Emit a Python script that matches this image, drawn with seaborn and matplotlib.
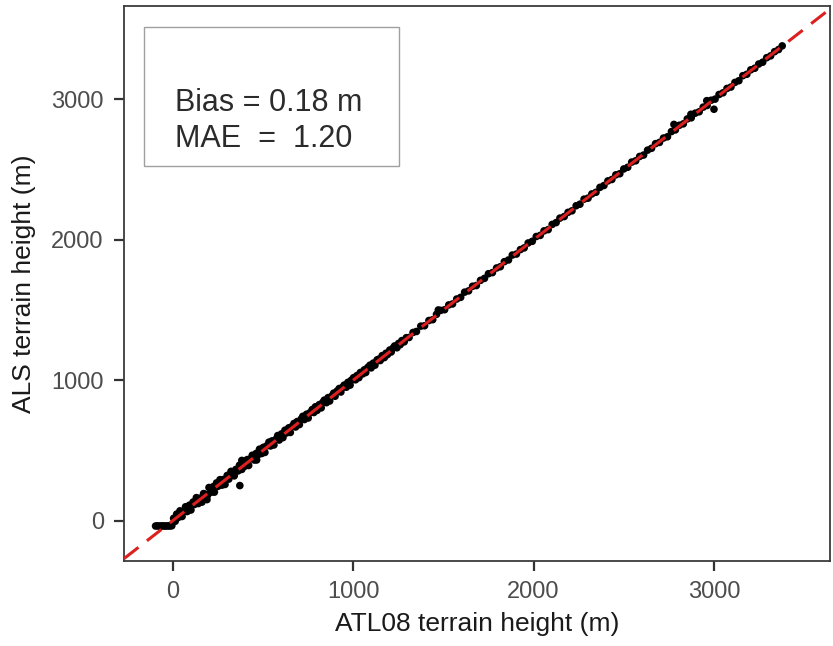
import matplotlib
matplotlib.use("Agg")
import matplotlib.pyplot as plt
from matplotlib.patches import Rectangle
import pandas as pd
import seaborn as sns

# ATL08 vs ALS terrain heights (m)
atl08_flat = [-95, -85, -75, -65, -55, -45, -35, -25, -15, -5]
als_flat = [-38, -37, -38, -38, -37, -38, -38, -37, -38, -36]

atl08_low = [
    5, 14, 22, 31, 40, 52, 60, 71, 80, 92,
    101, 113, 120, 131, 142, 150, 162, 171, 180, 193,
    201, 212, 224, 231, 243, 250, 262, 273, 281, 290,
    302, 311, 323, 334, 341, 350, 362, 370, 383, 392,
    400, 413, 421, 432, 441, 452, 463, 470, 481, 493,
    502, 511, 520, 533, 542, 550, 561, 573, 582, 590,
    603, 611, 622, 630, 643, 652, 661, 672, 681, 690,
    702, 713, 721, 730, 742, 751, 760, 773, 782, 791,
    800, 812, 823, 831, 840, 852, 861, 870, 883, 892,
    900, 911, 923, 932, 941, 950, 962, 971, 983, 990,
    1002, 1013, 1021, 1032, 1040, 1053, 1062, 1070, 1081, 1093,
    1100, 1112, 1121, 1133, 1142, 1150, 1161, 1173, 1182, 1190,
    1203, 1211, 1222, 1230, 1243, 1252, 1261, 1270, 1283, 1295,
]
als_low = [
    17, -4, 47, 23, 70, 30, 65, 99, 65, 110,
    76, 133, 115, 164, 122, 160, 132, 193, 188, 181,
    236, 202, 242, 203, 269, 244, 292, 253, 293, 258,
    322, 296, 351, 339, 319, 365, 354, 395, 365, 422,
    388, 435, 393, 442, 466, 432, 479, 465, 509, 478,
    522, 486, 532, 559, 532, 568, 539, 581, 606, 574,
    618, 591, 644, 624, 661, 628, 671, 692, 667, 706,
    684, 725, 743, 720, 758, 731, 768, 791, 770, 811,
    785, 826, 803, 841, 858, 840, 876, 852, 889, 908,
    886, 923, 941, 916, 949, 965, 950, 985, 965, 1000,
    1018, 1003, 1033, 1018, 1055, 1045, 1074, 1055, 1091, 1107,
    1088, 1122, 1107, 1145, 1150, 1140, 1175, 1161, 1192, 1182,
    1215, 1201, 1230, 1244, 1231, 1262, 1253, 1282, 1273, 1303,
]

atl08_high = [
    1310, 1332, 1351, 1375, 1396, 1420, 1441, 1462, 1485, 1507,
    1530, 1551, 1574, 1596, 1618, 1640, 1662, 1683, 1706, 1728,
    1750, 1772, 1795, 1816, 1838, 1861, 1882, 1905, 1927, 1948,
    1970, 1993, 2015, 2037, 2058, 2081, 2103, 2125, 2146, 2170,
    2191, 2213, 2236, 2257, 2280, 2302, 2323, 2346, 2368, 2390,
    2412, 2434, 2456, 2478, 2500, 2522, 2544, 2566, 2588, 2610,
    2632, 2654, 2676, 2698, 2720, 2742, 2764, 2786, 2808, 2830,
    2852, 2874, 2896, 2918, 2940, 2962, 2984, 3006, 3028, 3050,
    3072, 3094, 3116, 3138, 3160, 3182, 3204, 3226, 3248, 3270,
    3292, 3314, 3336, 3358, 3378,
]
als_high = [
    1304, 1340, 1347, 1385, 1388, 1425, 1431, 1469, 1497, 1502,
    1536, 1543, 1578, 1590, 1627, 1636, 1669, 1674, 1711, 1725,
    1758, 1766, 1799, 1808, 1844, 1856, 1891, 1898, 1930, 1942,
    1977, 1989, 2023, 2031, 2063, 2072, 2109, 2122, 2154, 2165,
    2195, 2206, 2242, 2253, 2289, 2296, 2326, 2338, 2373, 2386,
    2419, 2429, 2462, 2470, 2504, 2516, 2553, 2562, 2593, 2603,
    2638, 2651, 2684, 2693, 2724, 2733, 2770, 2782, 2815, 2825,
    2860, 2868, 2901, 2911, 2944, 2956, 2993, 3001, 3034, 3046,
    3077, 3087, 3120, 3132, 3168, 3178, 3210, 3221, 3251, 3264,
    3296, 3309, 3339, 3354, 3380,
]

atl08_out = [190, 372, 383, 465, 1472, 2778, 2872, 2960, 3000]
als_out = [150, 250, 429, 432, 1500, 2821, 2893, 2990, 2929]

x_ticks = [0, 1000, 2000, 3000]
y_ticks = [0, 1000, 2000, 3000]
stats_lines = ["Bias = 0.18 m", "MAE  =  1.20"]

df = pd.DataFrame({
    "atl08": atl08_flat + atl08_low + atl08_high + atl08_out,
    "als": als_flat + als_low + als_high + als_out,
})

sns.set_theme(style="ticks")
plt.rcParams["font.family"] = ["Liberation Sans", "DejaVu Sans"]

fig = plt.figure(figsize=(8.33, 6.46), dpi=100)
ax = fig.add_axes([124 / 833, 1 - 561 / 646, 706 / 833, 555 / 646])

sns.scatterplot(data=df, x="atl08", y="als", ax=ax, color="black",
                s=30, linewidth=0, edgecolor="none", zorder=2)
ax.axline((0, 0), slope=1, color="#dc2020", lw=2.2, ls=(0, (6, 3.5)), zorder=3)

ax.set_xlim(-270, 3643)
ax.set_ylim(-287, 3664)
ax.set_xticks(x_ticks)
ax.set_yticks(y_ticks)

for side in ["left", "right", "top", "bottom"]:
    ax.spines[side].set_visible(True)
    ax.spines[side].set_color("#3c3c3c")
    ax.spines[side].set_linewidth(1.3)

ax.tick_params(axis="both", length=7, width=1.6, color="#333333",
               labelsize=17, labelcolor="#4d4d4d")
ax.tick_params(axis="x", pad=7.5)
ax.tick_params(axis="y", pad=7.5)

ax.set_xlabel("ATL08 terrain height (m)", fontsize=19, color="#1a1a1a")
ax.set_ylabel("ALS terrain height (m)", fontsize=19, color="#1a1a1a")
ax.xaxis.set_label_coords(0.5, -0.092)
ax.yaxis.set_label_coords(-0.124, 0.5)

ax.add_patch(Rectangle((0.0283, 0.7117), 0.3612, 0.2505, transform=ax.transAxes,
                       facecolor="white", edgecolor="#a0a0a0", lw=1.0, zorder=4))
ax.text(0.0722, 0.8108, stats_lines[0], transform=ax.transAxes, fontsize=22,
        color="#2b2b2b", va="baseline", ha="left", zorder=5)
ax.text(0.0722, 0.7459, stats_lines[1], transform=ax.transAxes, fontsize=22,
        color="#2b2b2b", va="baseline", ha="left", zorder=5)

fig.savefig("out.png", dpi=100)
